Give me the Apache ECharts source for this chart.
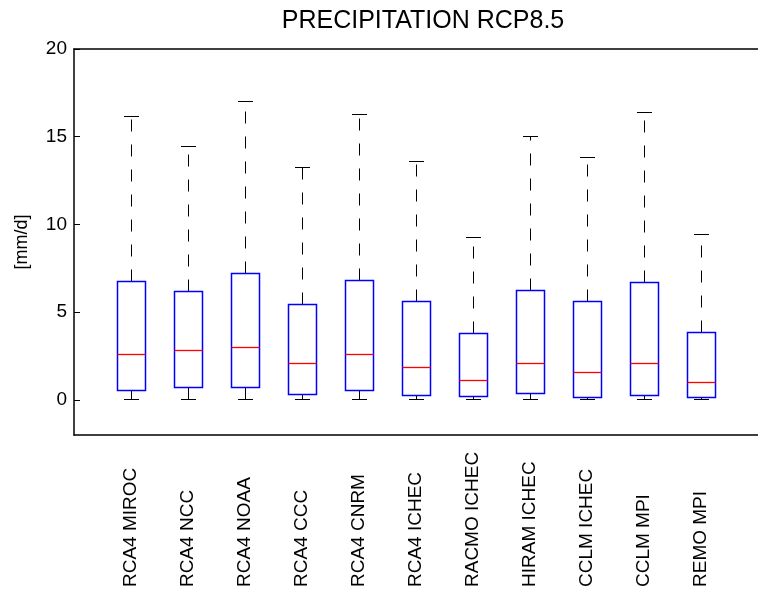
<!DOCTYPE html>
<html>
<head>
<meta charset="utf-8">
<script src="https://cdn.jsdelivr.net/npm/echarts@6/dist/echarts.min.js"></script>
<style>
html,body{margin:0;padding:0;background:#fff;}
#chart{width:758px;height:604px;}
</style>
</head>
<body>
<div id="chart"></div>
<script>
// ---- data ----
var categories = ['RCA4 MIROC','RCA4 NCC','RCA4 NOAA','RCA4 CCC','RCA4 CNRM','RCA4 ICHEC','RACMO ICHEC','HIRAM ICHEC','CCLM ICHEC','CCLM MPI','REMO MPI'];
var lowerWhisker = [0, 0, 0, 0, 0, 0, 0, 0, 0, 0, 0];
var q1Values     = [0.51, 0.68, 0.72, 0.32, 0.53, 0.25, 0.21, 0.38, 0.15, 0.26, 0.11];
var medianValues = [2.59, 2.80, 2.97, 2.09, 2.57, 1.84, 1.08, 2.09, 1.54, 2.07, 0.97];
var q3Values     = [6.75, 6.18, 7.23, 5.46, 6.81, 5.61, 3.80, 6.22, 5.59, 6.70, 3.82];
var upperWhisker = [16.13, 14.42, 16.99, 13.26, 16.27, 13.60, 9.27, 14.99, 13.79, 16.38, 9.42];
var yTicks = [0, 5, 10, 15, 20];
var xPositions = categories.map(function (c, i) { return i + 1; });

var seriesData = categories.map(function (c, i) {
  return [xPositions[i], lowerWhisker[i], q1Values[i], medianValues[i], q3Values[i], upperWhisker[i]];
});

var FONT = "'Liberation Sans', Arial, Helvetica, sans-serif";

function snap(v) { return Math.round(v - 0.5) + 0.5; }

function renderItem(params, api) {
  var x = api.value(0);
  var band = api.size([1, 0])[0];
  var cx = snap(api.coord([x, 0])[0]);
  var yLow = snap(api.coord([x, api.value(1)])[1]);
  var yQ1 = snap(api.coord([x, api.value(2)])[1]);
  var yMed = snap(api.coord([x, api.value(3)])[1]);
  var yQ3 = snap(api.coord([x, api.value(4)])[1]);
  var yHigh = snap(api.coord([x, api.value(5)])[1]);
  var hb = band * 0.25, hc = band * 0.125;
  var bx0 = snap(cx - hb), bx1 = snap(cx + hb);
  var cx0 = Math.round(cx - hc), cx1 = Math.round(cx + hc);
  return {
    type: 'group',
    children: [
      { type: 'line', shape: { x1: cx, y1: yQ3, x2: cx, y2: yHigh }, style: { stroke: '#000000', lineWidth: 1, lineDash: [12, 13], fill: null } },
      { type: 'line', shape: { x1: cx, y1: yQ1, x2: cx, y2: yLow }, style: { stroke: '#000000', lineWidth: 1, lineDash: [12, 13], fill: null } },
      { type: 'line', shape: { x1: cx0, y1: yHigh, x2: cx1, y2: yHigh }, style: { stroke: '#000000', lineWidth: 1, fill: null } },
      { type: 'line', shape: { x1: cx0, y1: yLow, x2: cx1, y2: yLow }, style: { stroke: '#000000', lineWidth: 1, fill: null } },
      { type: 'rect', shape: { x: bx0, y: yQ3, width: bx1 - bx0, height: yQ1 - yQ3 }, style: { stroke: '#0000ff', lineWidth: 1.5, fill: null } },
      { type: 'line', shape: { x1: bx0, y1: yMed, x2: bx1, y2: yMed }, style: { stroke: '#ff0000', lineWidth: 1.3, fill: null } }
    ]
  };
}

var chart = echarts.init(document.getElementById('chart'), null, { renderer: 'canvas' });
chart.setOption({
  backgroundColor: '#ffffff',
  animation: false,
  textStyle: { fontFamily: FONT },
  title: {
    text: 'PRECIPITATION RCP8.5',
    left: 423,
    top: 9,
    padding: 0,
    textAlign: 'center',
    textStyle: { fontFamily: FONT, fontSize: 25, fontWeight: 'normal', color: '#000' }
  },
  grid: { left: 74, top: 49, width: 692, height: 386, containLabel: false },
  xAxis: [{
    type: 'value',
    min: 0,
    max: 12,
    position: 'bottom',
    axisLine: { show: true, onZero: false, lineStyle: { color: '#000', width: 1.5 } },
    axisTick: { show: false },
    splitLine: { show: false },
    axisLabel: {
      customValues: xPositions,
      rotate: 90,
      align: 'left',
      verticalAlign: 'middle',
      margin: 152,
      fontFamily: FONT,
      fontSize: 19,
      color: '#000',
      formatter: function (v) { return categories[Math.round(v) - 1] || ''; }
    }
  }, {
    type: 'value',
    min: 0,
    max: 12,
    position: 'top',
    axisLine: { show: true, onZero: false, lineStyle: { color: '#000', width: 1.5 } },
    axisTick: { show: false },
    axisLabel: { show: false },
    splitLine: { show: false }
  }],
  yAxis: {
    type: 'value',
    min: -2,
    max: 20,
    name: '[mm/d]',
    nameLocation: 'middle',
    nameGap: 43,
    nameTextStyle: { fontFamily: FONT, fontSize: 18, color: '#000' },
    axisLine: { show: true, onZero: false, lineStyle: { color: '#000', width: 1.5 } },
    axisTick: { show: true, inside: true, length: 6, customValues: yTicks, lineStyle: { color: '#000' } },
    splitLine: { show: false },
    axisLabel: { customValues: yTicks, margin: 7, fontFamily: FONT, fontSize: 19, color: '#000', showMinLabel: true, showMaxLabel: true }
  },
  series: [{
    type: 'custom',
    xAxisIndex: 0,
    yAxisIndex: 0,
    renderItem: renderItem,
    encode: { x: 0, y: [1, 2, 3, 4, 5] },
    data: seriesData,
    clip: false
  }]
});
</script>
</body>
</html>
